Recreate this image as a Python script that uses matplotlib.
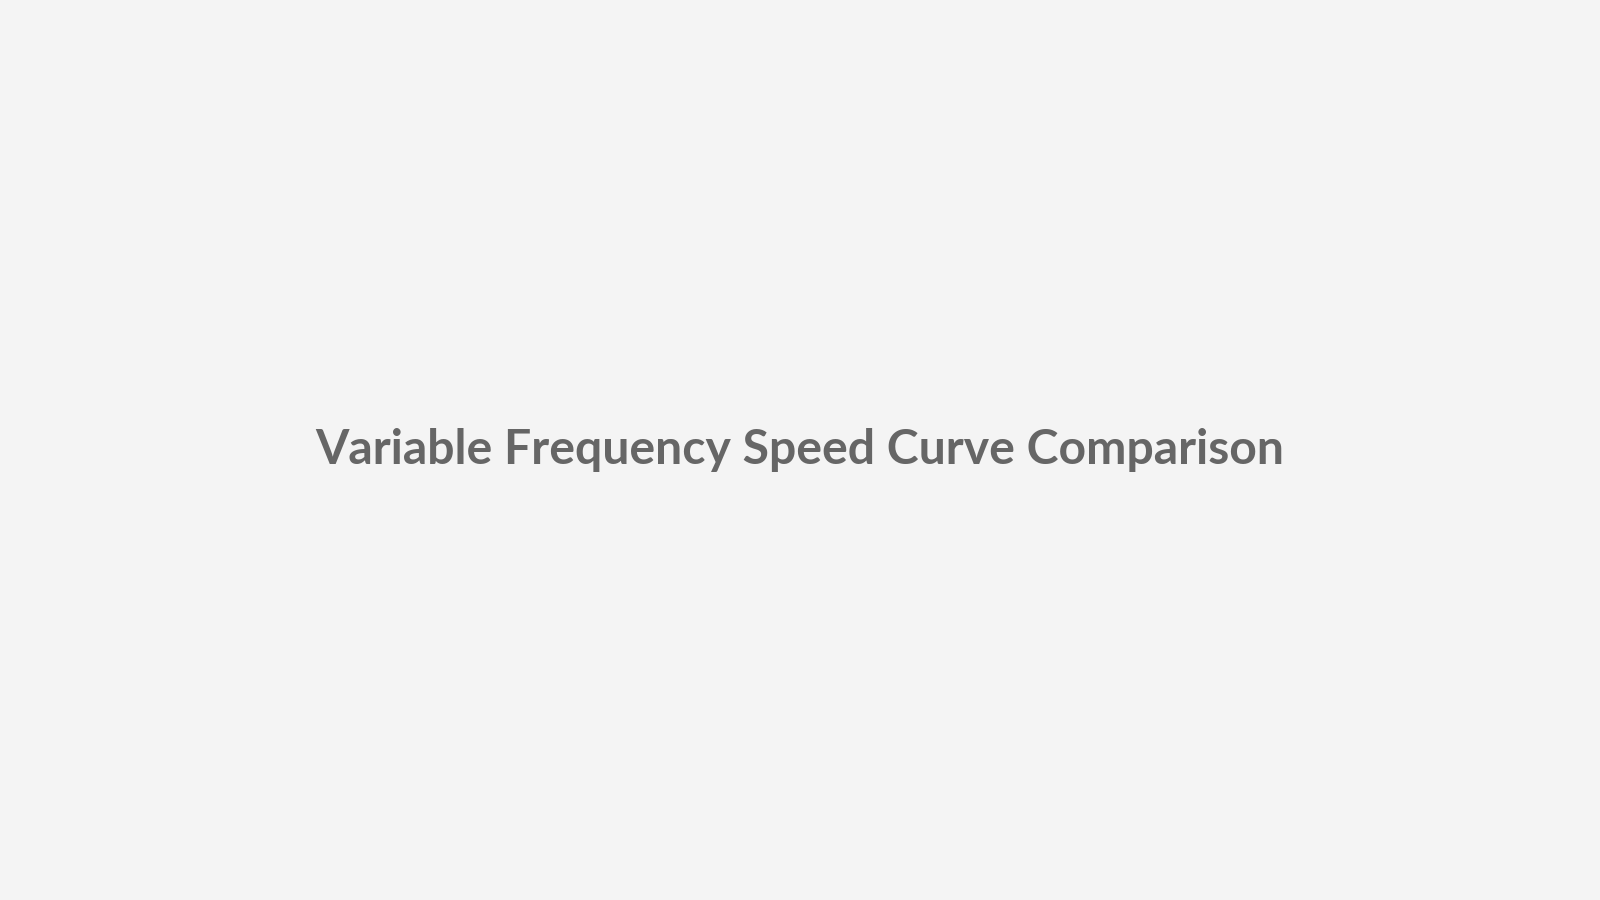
import matplotlib
matplotlib.use("Agg")
import matplotlib.pyplot as plt

title_text = "Variable Frequency Speed Curve Comparison"

fig = plt.figure(figsize=(16, 9), dpi=100)
fig.patch.set_facecolor("#f4f4f4")
fig.text(0.5, 0.500, title_text, ha="center", va="center",
         fontsize=34.7, fontweight="bold", color="#666666",
         family=["Lato", "DejaVu Sans"])
fig.savefig("out.png", dpi=100, facecolor=fig.get_facecolor())
